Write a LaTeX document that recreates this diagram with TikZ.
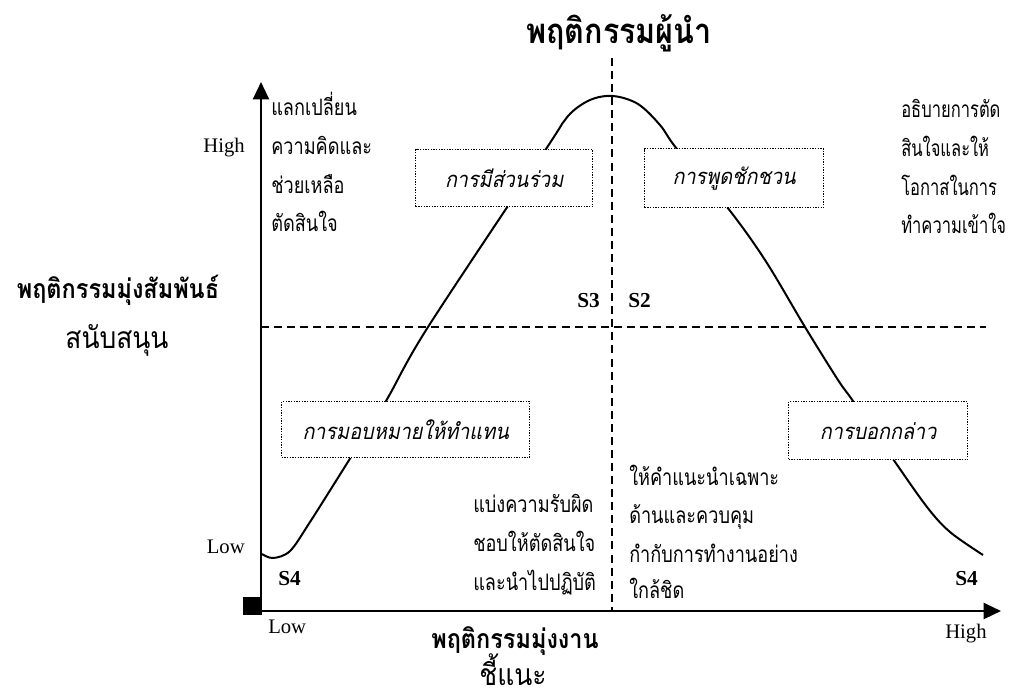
\documentclass[tikz,border=0pt]{standalone}
\usepackage{fontspec}
\setmainfont{Liberation Serif}
\newfontfamily\thaib[Script=Thai,FakeStretch=0.88]{Loma}
\newfontfamily\thaic[Script=Thai,FakeStretch=0.8]{Loma}
\newfontfamily\thaicc[Script=Thai,FakeStretch=0.73]{Loma}
\newfontfamily\thaiit[Script=Thai,FakeSlant=0.2,FakeStretch=0.9]{Loma}
\usetikzlibrary{arrows.meta}
\tikzset{
  th/.style={font=\thaic\fontsize{17}{20}\selectfont, anchor=base west, inner sep=0pt},
  thr/.style={font=\thaicc\fontsize{17}{20}\selectfont, anchor=base west, inner sep=0pt},
  thbig/.style={font=\thaib\fontsize{22.5}{26}\selectfont, anchor=base, inner sep=0pt},
  thbold/.style={font=\thaib\bfseries\fontsize{20}{24}\selectfont, anchor=base, inner sep=0pt},
  thtitle/.style={font=\thaib\bfseries\fontsize{26}{30}\selectfont, anchor=base, inner sep=0pt},
  lvl/.style={font=\fontsize{15.5}{18}\selectfont, inner sep=0pt},
  sit/.style={font=\bfseries\fontsize{16}{19}\selectfont, anchor=base west, inner sep=0pt},
  stylebox/.style={draw, line width=1pt, dash pattern=on 1pt off 1pt, fill=white,
     font=\thaiit\fontsize{16.5}{19}\selectfont, inner sep=0pt},
  axisline/.style={line width=1.7pt, -{Triangle[length=13pt,width=12pt]}},
  guide/.style={line width=1.1pt, dash pattern=on 6pt off 3.8pt},
  curve/.style={line width=1.5pt}
}
\begin{document}
\begin{tikzpicture}[x=0.75pt,y=-0.75pt]
\useasboundingbox (0,0) rectangle (1015,697);
% axes
\coordinate (O) at (261,611);
\coordinate (ytop) at (261,82);
\coordinate (xend) at (1001,611);
\coordinate (ybot) at (261,615);
\draw[axisline] (ybot) -- (ytop);
\draw[axisline] (O) -- (xend);
\node[fill=black, minimum width=13.5pt, minimum height=13.5pt, inner sep=0pt, anchor=south east] (sq) at (261.5,615.5) {};
% guides
\coordinate (vtop) at (612,58);
\coordinate (vbot) at (612,611);
\coordinate (hl) at (261,327);
\coordinate (hr) at (986,327);
\draw[guide] (vtop) -- (vbot);
\draw[guide] (hl) -- (hr);
% curve
\draw[curve] plot[smooth, tension=0.55] coordinates {
 (262,554) (273,558) (290,551) (310,522) (351,457) (386,401) (428,327) (546,149)
 (568,116) (590,100) (613,96) (638,104) (660,125) (677,149) (727,207) (765,260)
 (805,327) (838,380) (853,401) (893,459) (927,507) (950,532) (983,555)};
% boxes
\node[stylebox, minimum width=132.75pt, minimum height=42.75pt, anchor=north west] (b1) at (415,149) {การมีส่วนร่วม};
\node[stylebox, minimum width=134.25pt, minimum height=44.25pt, anchor=north west] (b2) at (644,148) {การพูดชักชวน};
\node[stylebox, minimum width=186pt, minimum height=42pt, anchor=north west] (b3) at (281,401) {การมอบหมายให้ทำแทน};
\node[stylebox, minimum width=134.25pt, minimum height=43.5pt, anchor=north west] (b4) at (788,401) {การบอกกล่าว};
% title and axis labels
\node[thtitle] (title) at (619,43) {พฤติกรรมผู้นำ};
\node[thbold] (ylab) at (118,298) {พฤติกรรมมุ่งสัมพันธ์};
\node[thbig] (ylab2) at (117,348) {สนับสนุน};
\node[thbold] (xlab) at (515,648) {พฤติกรรมมุ่งงาน};
\node[thbig] (xlab2) at (513,685) {ชี้แนะ};
% levels
\node[lvl, anchor=base east] (hi) at (245,152) {High};
\node[lvl, anchor=base east] (lo) at (245,553) {Low};
\node[lvl, anchor=base west] (lo2) at (268,633) {Low};
\node[lvl, anchor=base west] (hi2) at (945,638) {High};
% situations
\node[sit] (s3) at (577,307) {S3};
\node[sit] (s2) at (628,307) {S2};
\node[sit] (s4a) at (278,585) {S4};
\node[sit] (s4b) at (955,585) {S4};
% texts top-left
\node[th] (tl1) at (271,115) {แลกเปลี่ยน};
\node[th] (tl2) at (271,154) {ความคิดและ};
\node[th] (tl3) at (271,193) {ช่วยเหลือ};
\node[th] (tl4) at (271,231) {ตัดสินใจ};
% texts top-right
\node[thr] (tr1) at (901,117) {อธิบายการตัด};
\node[thr] (tr2) at (901,156) {สินใจและให้};
\node[thr] (tr3) at (901,195) {โอกาสในการ};
\node[thr] (tr4) at (901,233) {ทำความเข้าใจ};
% texts bottom-left
\node[th] (bl1) at (473,512) {แบ่งความรับผิด};
\node[th] (bl2) at (473,551) {ชอบให้ตัดสินใจ};
\node[th] (bl3) at (473,590) {และนำไปปฏิบัติ};
% texts bottom-right
\node[th] (br1) at (629,485) {ให้คำแนะนำเฉพาะ};
\node[th] (br2) at (629,523) {ด้านและควบคุม};
\node[th] (br3) at (629,562) {กำกับการทำงานอย่าง};
\node[th] (br4) at (629,598) {ใกล้ชิด};
\end{tikzpicture}
\end{document}
